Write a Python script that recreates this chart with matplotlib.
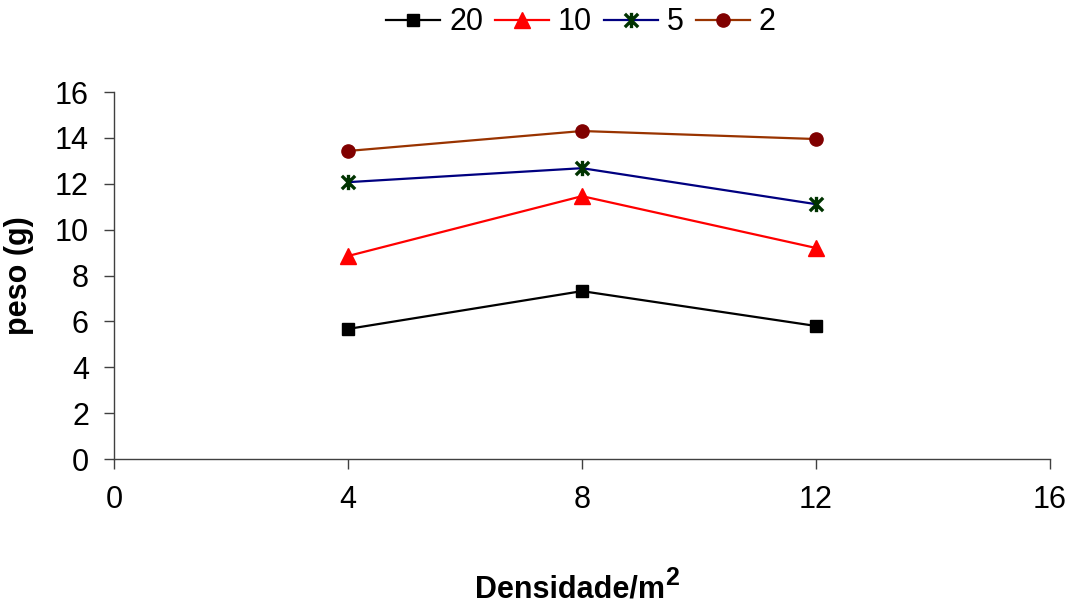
import matplotlib
matplotlib.use("Agg")
import matplotlib.pyplot as plt
from matplotlib.path import Path

plt.rcParams['font.family'] = ['Liberation Sans', 'DejaVu Sans']

densidade = [4, 8, 12]
series_names = ['20', '10', '5', '2']
peso_20 = [5.67, 7.32, 5.80]
peso_10 = [8.85, 11.46, 9.20]
peso_5 = [12.07, 12.68, 11.11]
peso_2 = [13.43, 14.30, 13.95]
x_ticks = [0, 4, 8, 12, 16]
y_ticks = [0, 2, 4, 6, 8, 10, 12, 14, 16]

# star marker: an X crossed by a vertical stroke
star = Path(
    [(-1, -1), (1, 1), (-1, 1), (1, -1), (0, -1.15), (0, 1.15)],
    [Path.MOVETO, Path.LINETO, Path.MOVETO, Path.LINETO, Path.MOVETO, Path.LINETO],
)

styles = [
    dict(color='black', marker='s', mfc='black', mec='black', ms=9),
    dict(color='#FF0000', marker='^', mfc='#FF0000', mec='#FF0000', ms=11),
    dict(color='#000080', marker=star, mfc='none', mec='#003300', ms=11, mew=2.4),
    dict(color='#993300', marker='o', mfc='#800000', mec='#800000', ms=9.5),
]

fig = plt.figure(figsize=(10.72, 6.05), dpi=100)
ax = fig.add_axes([0.1063, 0.2413, 0.9795 - 0.1063, 0.8479 - 0.2413])

handles = []
for name, vals, st in zip(series_names, [peso_20, peso_10, peso_5, peso_2], styles):
    h, = ax.plot(densidade, vals, lw=1.6, label=name, **st)
    handles.append(h)

ax.set_xlim(0, 16)
ax.set_ylim(0, 16)
ax.set_xticks(x_ticks)
ax.set_yticks(y_ticks)
ax.spines['top'].set_visible(False)
ax.spines['right'].set_visible(False)
for sp in ('left', 'bottom'):
    ax.spines[sp].set_color('#404040')
    ax.spines[sp].set_linewidth(1.0)
ax.tick_params(axis='both', direction='out', length=7, width=1.0,
               color='#404040', labelsize=22)
ax.tick_params(axis='y', pad=11)
ax.tick_params(axis='x', pad=12)

ax.set_ylabel('peso (g)', fontsize=22, fontweight='bold', labelpad=15)

xl = fig.text(0.443, 0.013, 'Densidade/m', fontsize=22, fontweight='bold',
              ha='left', va='baseline')
ax.annotate('2', xy=(1, 0), xycoords=xl, xytext=(0, 14),
            textcoords='offset points', fontsize=18, fontweight='bold',
            ha='left', va='baseline', annotation_clip=False)

fig.legend(handles=handles, loc='center', bbox_to_anchor=(0.542, 0.963),
           ncol=4, frameon=False, fontsize=22, handlelength=1.75,
           handletextpad=0.3, columnspacing=0.4)

fig.savefig('out.png', dpi=100)
